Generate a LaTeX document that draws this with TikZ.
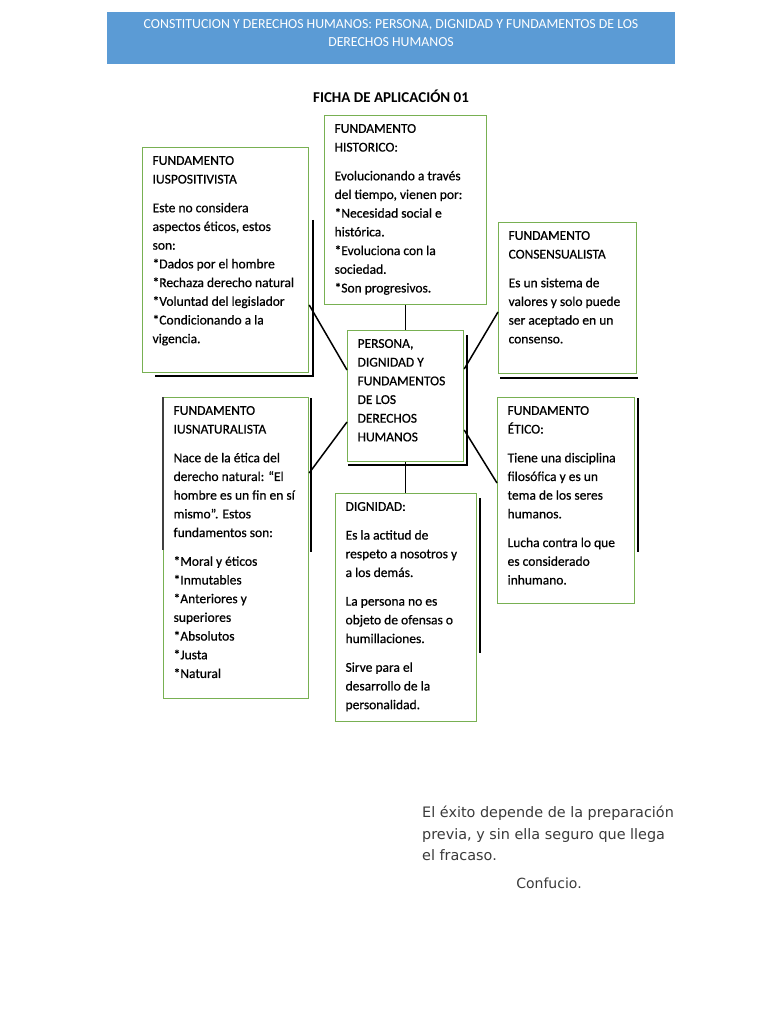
\documentclass[tikz,border=0pt]{standalone}
\usepackage{fontspec}
\setmainfont{Carlito}
\newfontfamily\boxfamily{Carlito}[FakeBold=0.6]
\newfontfamily\quotefont{DejaVu Sans}
\usepackage{tikz}
\usetikzlibrary{positioning, calc, backgrounds}

\definecolor{headblue}{HTML}{5B9BD5}
\definecolor{boxgreen}{HTML}{78B052}
\definecolor{quotegray}{HTML}{3A3A3A}

\newcommand{\boxfont}{\boxfamily\fontsize{13.5}{18.7}\selectfont}
\newcommand{\boxtext}[3]{\parbox[t][#2pt][t]{#1pt}{\raggedright #3}}

\tikzset{
  fbox/.style={draw=boxgreen, line width=1.2pt, fill=white, anchor=north west,
    inner xsep=10pt, inner ysep=8.5pt, font=\boxfont},
  shade/.style={line width=2.4pt, black},
  link/.style={line width=1.5pt, black},
}

\begin{document}
\begin{tikzpicture}[x=1pt, y=-1pt]
\useasboundingbox (0,0) rectangle (768,1024);

% header band
\node[fill=headblue, minimum width=568pt, minimum height=52pt, inner sep=0pt] (head) at (391,38) {};
\node[text=white, align=center, font=\fontsize{13.8}{18}\selectfont] (title) at (391,33)
  {CONSTITUCION Y DERECHOS HUMANOS: PERSONA, DIGNIDAD Y FUNDAMENTOS DE LOS\\DERECHOS HUMANOS};
\node[font=\fontsize{15}{16}\selectfont\bfseries] (ficha) at (391,96) {FICHA DE APLICACIÓN 01};

% boxes
\node[fbox] (hist) at (324,115) {\boxtext{142}{172}{FUNDAMENTO\\HISTORICO:\\[10pt]
  Evolucionando a través\\del tiempo, vienen por:\\{}*Necesidad social e\\histórica.\\{}*Evoluciona con la\\sociedad.\\{}*Son progresivos.}};
\node[fbox] (pos) at (142,147) {\boxtext{146}{208}{FUNDAMENTO\\IUSPOSITIVISTA\\[10pt]
  Este no considera\\aspectos éticos, estos\\son:\\{}*Dados por el hombre\\{}*Rechaza derecho natural\\{}*Voluntad del legislador\\{}*Condicionando a la\\vigencia.}};
\node[fbox] (cons) at (498,222) {\boxtext{118}{134}{FUNDAMENTO\\CONSENSUALISTA\\[10pt]
  Es un sistema de\\valores y solo puede\\ser aceptado en un\\consenso.}};
\node[fbox] (ctr) at (347,330) {\boxtext{96}{114}{PERSONA,\\DIGNIDAD Y\\FUNDAMENTOS\\DE LOS\\DERECHOS\\HUMANOS}};
\node[fbox] (nat) at (163,397) {\boxtext{125}{284}{FUNDAMENTO\\IUSNATURALISTA\\[10pt]
  Nace de la ética del\\derecho natural: “El\\hombre es un fin en sí\\mismo”. Estos\\fundamentos son:\\[10pt]
  {}*Moral y éticos\\{}*Inmutables\\{}*Anteriores y\\superiores\\{}*Absolutos\\{}*Justa\\{}*Natural}};
\node[fbox] (eti) at (497,397) {\boxtext{117}{189}{FUNDAMENTO\\ÉTICO:\\[10pt]
  Tiene una disciplina\\filosófica y es un\\tema de los seres\\humanos.\\[10pt]
  Lucha contra lo que\\es considerado\\inhumano.}};
\node[fbox] (dig) at (335,493) {\boxtext{121}{211}{DIGNIDAD:\\[10pt]
  Es la actitud de\\respeto a nosotros y\\a los demás.\\[10pt]
  La persona no es\\objeto de ofensas o\\humillaciones.\\[10pt]
  Sirve para el\\desarrollo de la\\personalidad.}};

% shadows
\begin{scope}[on background layer]
\draw[shade] ($(pos.north east)+(3.5,73)$) |- ($(pos.south west)+(13,3)$);
\draw[shade] ($(cons.south west)+(2,3.5)$) -- ($(cons.south east)+(1,3.5)$);
\draw[shade] ($(ctr.north east)+(2.5,5)$) |- ($(ctr.south west)+(1,2.5)$);
\draw[shade] ($(nat.north east)+(1.5,1)$) -- ($(nat.north east)+(1.5,155)$);
\draw[shade] ($(dig.north east)+(3,5)$) -- ($(dig.north east)+(3,160)$);
\draw[shade] ($(eti.north east)+(2.5,1)$) -- ($(eti.north east)+(2.5,155)$);
\end{scope}
\draw[line width=1.3pt, black!75] (nat.north west) -- ($(nat.north west)+(0,153)$);

% connectors
\draw[link] (hist.south) -- (hist.south |- ctr.north);
\draw[link] (ctr.south) -- (ctr.south |- dig.north);
\draw[link] ($(ctr.north west)+(0,40)$) -- ($(pos.north east)+(0,158)$);
\draw[link] ($(ctr.north east)+(0,39)$) -- ($(cons.north west)+(0,90)$);
\draw[link] ($(ctr.north west)+(0,92)$) -- ($(nat.north east)+(0,76)$);
\draw[link] ($(ctr.north east)+(0,100)$) -- ($(eti.north west)+(0,86)$);

% quote
\node[anchor=north west, align=left, text=quotegray, inner sep=0pt,
  font=\quotefont\fontsize{14.4}{21.5}\selectfont] (quote) at (422,806)
  {El éxito depende de la preparación\\previa, y sin ella seguro que llega\\el fracaso.};
\node[text=quotegray, inner sep=0pt, font=\quotefont\fontsize{14}{16}\selectfont] (author) at (549,883) {Confucio.};
\end{tikzpicture}
\end{document}
